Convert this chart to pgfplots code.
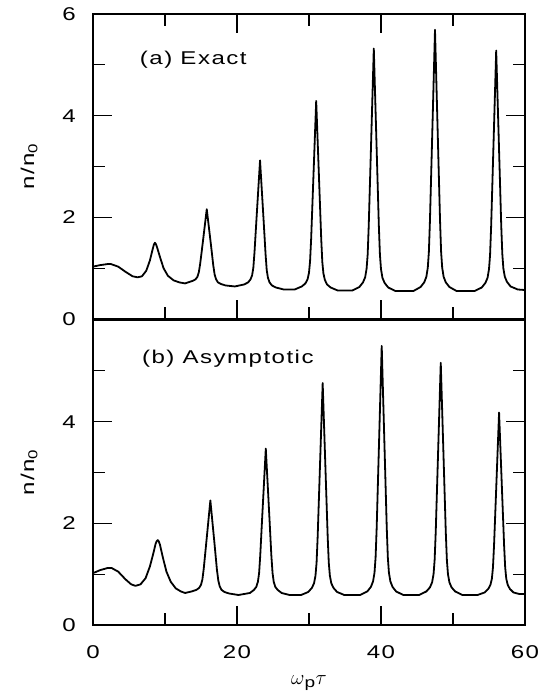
\documentclass[border=0pt]{standalone}
\usepackage{fontspec}
\setmainfont{Liberation Sans}[LetterSpace=8, FakeStretch=1.3]
\usepackage{pgfplots}
\pgfplotsset{compat=1.18}
\newcommand{\bigfont}{\fontsize{18.5}{22}\selectfont}
\pgfplotsset{
  panel/.style={
    width=432pt, height=305pt, scale only axis,
    xmin=0, xmax=60, ymin=0, ymax=6,
    xtick={0,20,40,60}, minor xtick={10,30,50},
    minor ytick={1,3,5},
    tick align=inside,
    major tick length=19pt, minor tick length=12pt,
    every major tick/.style={line width=1.1pt, black},
    every minor tick/.style={line width=1.1pt, black},
    axis line style={line width=1.1pt},
    /pgf/number format/assume math mode=true,
    tick label style={font=\bigfont},
    label style={font=\bigfont},
    yticklabel style={xshift=-11pt},
    xticklabel style={yshift=-14pt},
    ylabel={n/n\textsubscript{0}},
    ylabel style={at={(axis description cs:-0.148,0.5)}, anchor=center},
  },
  curve/.style={black, line width=1.8pt, line join=round, mark=none},
}
\begin{document}
\bigfont
\begin{tikzpicture}
\path[use as bounding box] (-93pt,-68pt) rectangle (456pt,625pt);
\begin{axis}[panel, at={(0pt,306pt)}, anchor=south west,
  ytick={0,2,4,6}, xticklabels={}]
\addplot[curve] coordinates {
(0,1.03)(1,1.06)(2,1.08)(2.5,1.08)(3.5,1.03)(4.5,0.93)(5.5,0.84)(6.2,0.82)(6.8,0.84)(7.4,0.95)(7.9,1.15)(8.3,1.38)(8.45,1.46)(8.6,1.50)(8.75,1.47)(8.9,1.41)(9.3,1.22)(9.8,1.00)(10.4,0.85)(11.2,0.76)(12.0,0.72)(12.8,0.70)
(13.2,0.72)(13.85,0.75)(14.24,0.78)(14.5,0.83)(14.7,0.92)(14.89,1.09)(15.22,1.47)(15.8,2.16)(16.39,1.45)(16.71,1.05)(16.9,0.87)(17.1,0.78)(17.36,0.72)(17.75,0.69)(18.4,0.66)(19.7,0.64)
(21.0,0.68)(21.55,0.72)(21.88,0.78)(22.1,0.86)(22.27,1.01)(22.43,1.31)(22.7,1.95)(23.2,3.12)(23.7,1.93)(23.97,1.27)(24.13,0.96)(24.3,0.81)(24.52,0.72)(24.85,0.66)(25.4,0.62)(26.5,0.58)
(28.0,0.58)(29.0,0.64)(29.5,0.70)(29.8,0.78)(30.0,0.91)(30.15,1.14)(30.3,1.58)(30.55,2.55)(31.0,4.29)(31.45,2.54)(31.7,1.57)(31.85,1.12)(32.0,0.90)(32.2,0.77)(32.5,0.68)(33.0,0.62)(34.0,0.56)
(36.0,0.56)(37.0,0.63)(37.5,0.72)(37.8,0.82)(38.0,0.99)(38.15,1.27)(38.3,1.85)(38.55,3.08)(39.0,5.32)(39.45,3.08)(39.7,1.84)(39.85,1.27)(40.0,0.98)(40.2,0.81)(40.5,0.71)(41.0,0.62)(42.0,0.55)
(44.5,0.55)(45.5,0.63)(46.0,0.72)(46.3,0.83)(46.5,1.01)(46.65,1.32)(46.8,1.94)(47.05,3.27)(47.5,5.69)(47.95,3.27)(48.2,1.94)(48.35,1.32)(48.5,1.01)(48.7,0.83)(49.0,0.72)(49.5,0.63)(50.5,0.55)
(53.0,0.55)(54.0,0.62)(54.5,0.71)(54.8,0.81)(55.0,0.98)(55.15,1.26)(55.3,1.83)(55.55,3.06)(56.0,5.28)(56.45,3.07)(56.7,1.84)(56.85,1.28)(57.0,0.99)(57.2,0.83)(57.5,0.73)(58.0,0.64)(59.0,0.58)(60.0,0.57)
};
\node[anchor=west, inner sep=0pt, font=\bigfont] at (axis cs:6.5,5.1) {(a) Exact};
\end{axis}
\begin{axis}[panel, at={(0pt,0pt)}, anchor=south west,
  ytick={0,2,4}, xtick pos=lower,
  xlabel={$\omega$\textsubscript{p}$\tau$},
  xlabel style={at={(axis description cs:0.5,0)}, anchor=base, yshift=-59pt, font=\fontsize{21}{25}\selectfont}]
\addplot[curve] coordinates {
(0,1.02)(1,1.08)(2,1.12)(2.6,1.12)(3.5,1.05)(4.5,0.90)(5.3,0.80)(5.9,0.77)(6.6,0.80)(7.3,0.92)(7.9,1.15)(8.4,1.42)(8.7,1.60)(8.85,1.65)(9.0,1.67)(9.15,1.64)(9.3,1.58)(9.7,1.33)(10.2,1.05)(10.8,0.85)(11.5,0.72)(12.2,0.66)(12.8,0.63)
(13.7,0.66)(14.35,0.69)(14.74,0.73)(15.0,0.79)(15.2,0.90)(15.39,1.12)(15.72,1.60)(16.3,2.45)(16.89,1.58)(17.21,1.09)(17.41,0.87)(17.6,0.76)(17.86,0.69)(18.25,0.65)(18.9,0.62)(20.2,0.59)
(21.8,0.63)(22.35,0.69)(22.68,0.75)(22.9,0.85)(23.07,1.02)(23.23,1.37)(23.5,2.12)(24.0,3.47)(24.5,2.12)(24.77,1.37)(24.94,1.02)(25.1,0.85)(25.32,0.75)(25.65,0.69)(26.2,0.63)(27.3,0.59)
(28.9,0.59)(29.9,0.65)(30.4,0.73)(30.7,0.82)(30.9,0.97)(31.05,1.22)(31.2,1.72)(31.45,2.80)(31.9,4.76)(32.35,2.80)(32.6,1.72)(32.75,1.22)(32.9,0.97)(33.1,0.82)(33.4,0.73)(33.9,0.65)(34.9,0.59)
(37.1,0.59)(38.1,0.66)(38.6,0.75)(38.9,0.86)(39.1,1.03)(39.25,1.33)(39.4,1.91)(39.65,3.19)(40.1,5.49)(40.55,3.19)(40.8,1.91)(40.95,1.33)(41.1,1.03)(41.3,0.86)(41.6,0.75)(42.1,0.66)(43.1,0.59)
(45.3,0.59)(46.3,0.66)(46.8,0.74)(47.1,0.84)(47.3,1.00)(47.45,1.28)(47.6,1.82)(47.85,3.01)(48.3,5.16)(48.75,3.01)(49.0,1.82)(49.15,1.28)(49.3,1.00)(49.5,0.84)(49.8,0.74)(50.3,0.66)(51.3,0.59)
(53.4,0.59)(54.4,0.64)(54.9,0.71)(55.2,0.79)(55.4,0.91)(55.55,1.13)(55.7,1.56)(55.95,2.49)(56.4,4.18)(56.85,2.49)(57.1,1.56)(57.25,1.13)(57.4,0.91)(57.6,0.79)(57.9,0.71)(58.4,0.64)(59.2,0.61)(60,0.61)
};
\node[anchor=west, inner sep=0pt, font=\bigfont] at (axis cs:6.8,5.23) {(b) Asymptotic};
\end{axis}
\end{tikzpicture}
\end{document}
